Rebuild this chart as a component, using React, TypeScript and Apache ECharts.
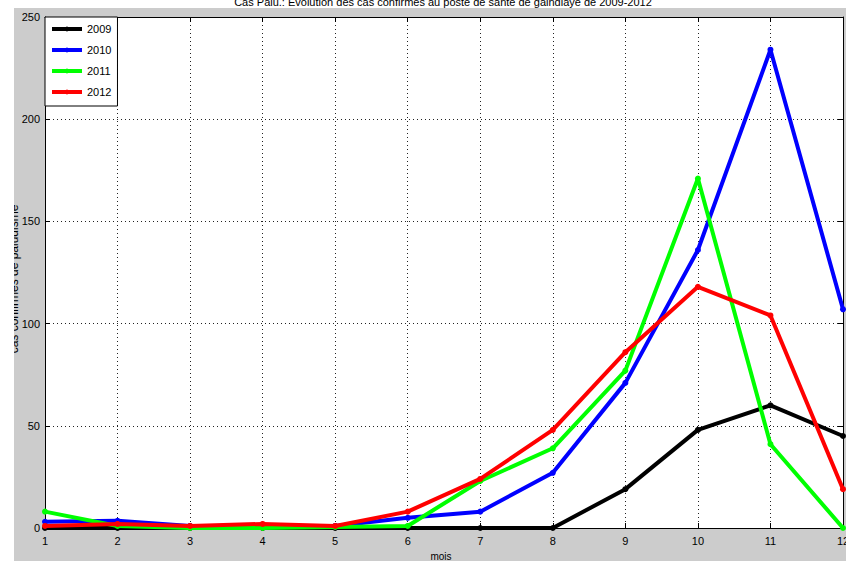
import React, { useEffect, useRef } from "react";
import * as echarts from "echarts";

const months = [1, 2, 3, 4, 5, 6, 7, 8, 9, 10, 11, 12];
const s2009 = [0, 0, 0, 0, 0, 0, 0, 0, 19, 48, 60, 45];
const s2010 = [3, 3.5, 1, 1, 1, 5, 8, 27, 71, 136, 234, 107];
const s2011 = [8, 1, 0, 0, 0.5, 1, 23, 39, 77, 171, 41, 0];
const s2012 = [1, 2, 1, 2, 1, 8, 24, 48, 86, 118, 104, 19];
const seriesNames = ["2009", "2010", "2011", "2012"];
const seriesData = [s2009, s2010, s2011, s2012];
const colors = ["#000000", "#0000ff", "#00ff00", "#ff0000"];
const titleText = "Cas Palu.: Evolution des cas confirmés au poste de santé de gaindiaye de 2009-2012";
const yLabel = "cas confirmés de paludisme";
const xLabel = "mois";

const FONT = "'Liberation Sans Narrow', 'Liberation Sans', Arial, sans-serif";
const FONT2 = "'Liberation Sans', Arial, sans-serif";

export default function App() {
  const ref = useRef<HTMLDivElement>(null);
  useEffect(() => {
    const chart = echarts.init(ref.current!, undefined, { renderer: "svg" });
    const gridLine = { show: true, lineStyle: { color: "#222", type: [1, 3] as any, width: 1 } };
    chart.setOption({
      animation: false,
      backgroundColor: "#cccccc",
      textStyle: { fontFamily: FONT },
      grid: {
        left: 45,
        right: 3,
        top: 17,
        bottom: 33,
        show: true,
        backgroundColor: "#ffffff",
        borderWidth: 0,
        containLabel: false,
        outerBoundsMode: "none",
      },
      legend: {
        orient: "vertical",
        left: 45,
        top: 17,
        backgroundColor: "#ffffff",
        borderColor: "#000",
        borderWidth: 1,
        borderRadius: 0,
        padding: [5, 6, 7, 5],
        itemWidth: 30,
        itemHeight: 6,
        itemGap: 7,
        lineStyle: { width: 4 },
        textStyle: { fontFamily: FONT, fontSize: 11, color: "#000", lineHeight: 14 },
        data: seriesNames,
      },
      xAxis: [
        {
          type: "value",
          min: 1,
          max: 12,
          interval: 1,
          axisLine: { show: true, lineStyle: { color: "#000", width: 1 } },
          axisTick: { show: true, inside: true, length: 5, lineStyle: { color: "#000" } },
          axisLabel: { fontFamily: FONT, fontSize: 11, color: "#000", margin: 7 },
          splitLine: gridLine,
        },
        {
          type: "value",
          position: "top",
          min: 1,
          max: 12,
          interval: 1,
          axisLine: { show: true, onZero: false, lineStyle: { color: "#000", width: 1 } },
          axisTick: { show: true, inside: true, length: 5, lineStyle: { color: "#000" } },
          axisLabel: { show: false },
          splitLine: { show: false },
        },
      ],
      yAxis: [
        {
          type: "value",
          min: 0,
          max: 250,
          interval: 50,
          axisLine: { show: true, lineStyle: { color: "#000", width: 1 } },
          axisTick: { show: true, inside: true, length: 5, lineStyle: { color: "#000" } },
          axisLabel: { fontFamily: FONT, fontSize: 11, color: "#000", margin: 5 },
          splitLine: gridLine,
        },
        {
          type: "value",
          position: "right",
          min: 0,
          max: 250,
          interval: 50,
          axisLine: { show: true, onZero: false, lineStyle: { color: "#000", width: 1 } },
          axisTick: { show: true, inside: true, length: 5, lineStyle: { color: "#000" } },
          axisLabel: { show: false },
          splitLine: { show: false },
        },
      ],
      series: seriesNames.map((name, i) => ({
        name,
        type: "line",
        data: months.map((m, j) => [m, seriesData[i][j]]),
        symbol: "circle",
        symbolSize: 6,
        showSymbol: true,
        lineStyle: { width: 4, color: colors[i] },
        itemStyle: { color: colors[i] },
        z: 2 + i,
      })),
      graphic: [
        {
          type: "text",
          x: 20,
          y: 279,
          rotation: Math.PI / 2,
          z: 10,
          style: {
            text: yLabel,
            fontFamily: FONT2,
            fontSize: 12,
            fill: "#000",
            textAlign: "center",
            textVerticalAlign: "bottom",
          },
        },
        {
          type: "rect",
          z: 20,
          shape: { x: 0, y: 0, width: 14, height: 561 },
          style: { fill: "#ffffff" },
        },
        {
          type: "rect",
          z: 20,
          shape: { x: 0, y: 0, width: 846, height: 8 },
          style: { fill: "#ffffff" },
        },
        {
          type: "text",
          x: 443,
          y: 2,
          z: 30,
          style: {
            text: titleText,
            fontFamily: FONT,
            fontSize: 11,
            fill: "#000",
            textAlign: "center",
            textVerticalAlign: "middle",
          },
        },
        {
          type: "text",
          x: 441,
          y: 556,
          z: 30,
          style: {
            text: xLabel,
            fontFamily: FONT,
            fontSize: 10,
            fill: "#000",
            textAlign: "center",
            textVerticalAlign: "middle",
          },
        },
      ],
    });
    return () => chart.dispose();
  }, []);
  return <div ref={ref} style={{ position: "fixed", left: 0, top: 0, width: 846, height: 561 }} />;
}
